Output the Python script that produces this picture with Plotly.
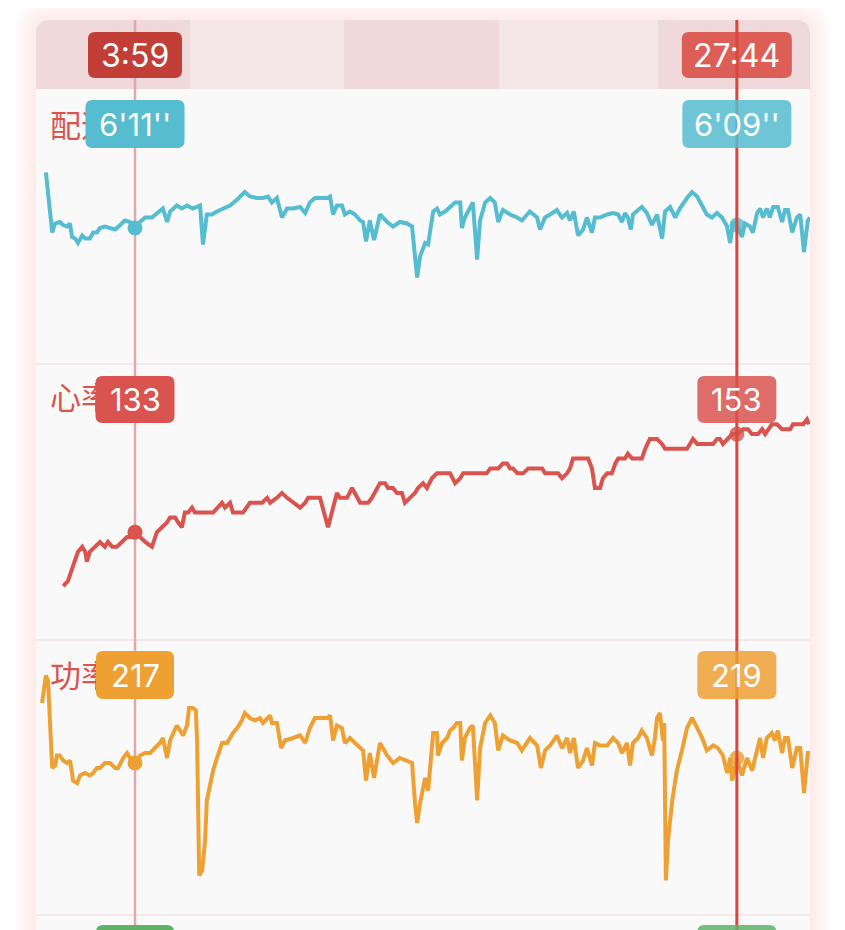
import plotly.graph_objects as go

# ---------------- data ----------------
cursor_times = [239, 1664]            # elapsed seconds of the two cursors
split_times = [369, 734, 1101, 1477]  # km split times (s) for the band shading

pace_t = [28, 43, 50, 61, 69, 78, 85, 90, 97, 104,
          114, 121, 132, 140, 149, 156, 168, 180, 192, 204,
          215, 227, 239, 251, 263, 279, 291, 305, 315, 322,
          338, 350, 362, 376, 393, 400, 409, 421, 433, 447,
          464, 481, 499, 511, 528, 542, 554, 563, 575, 587,
          599, 613, 630, 642, 653, 665, 677, 694, 701, 708,
          717, 729, 736, 748, 760, 772, 779, 786, 795, 805,
          819, 836, 850, 866, 883, 895, 902, 907, 914, 926,
          933, 945, 954, 961, 973, 985, 997, 1009, 1013, 1020,
          1032, 1039, 1049, 1056, 1068, 1080, 1091, 1099, 1110, 1127,
          1144, 1155, 1174, 1191, 1198, 1210, 1222, 1238, 1250, 1262,
          1269, 1278, 1288, 1300, 1309, 1321, 1328, 1340, 1357, 1371,
          1383, 1392, 1399, 1406, 1413, 1418, 1430, 1439, 1451, 1463,
          1475, 1487, 1494, 1506, 1518, 1529, 1546, 1558, 1570, 1582,
          1593, 1605, 1617, 1629, 1641, 1648, 1655, 1664, 1676, 1683,
          1695, 1702, 1712, 1719, 1726, 1735, 1742, 1750, 1761, 1771,
          1778, 1785, 1795, 1806, 1814, 1823, 1832, 1837]
pace_s = [334, 374, 368, 367, 369, 370, 368, 377, 378, 381,
          376, 378, 378, 374, 374, 371, 370, 371, 372, 369,
          366, 367, 371, 367, 364, 364, 361, 358, 367, 360,
          356, 358, 356, 358, 356, 382, 362, 362, 360, 358,
          356, 352, 347, 350, 351, 351, 350, 354, 351, 364,
          358, 358, 357, 361, 354, 351, 351, 351, 350, 362,
          356, 356, 362, 360, 362, 366, 367, 380, 366, 379,
          362, 367, 370, 367, 368, 370, 390, 404, 390, 381,
          382, 360, 358, 362, 360, 357, 354, 354, 371, 364,
          357, 354, 392, 366, 354, 351, 354, 367, 359, 362,
          364, 366, 360, 364, 372, 364, 362, 359, 364, 361,
          366, 360, 376, 372, 364, 374, 364, 364, 362, 361,
          362, 367, 361, 364, 372, 362, 359, 357, 361, 369,
          362, 378, 360, 357, 364, 358, 351, 347, 350, 356,
          362, 364, 361, 364, 370, 381, 367, 369, 377, 368,
          370, 374, 361, 358, 364, 358, 364, 357, 357, 367,
          359, 359, 374, 364, 362, 387, 366, 364]

hr_t = [69, 80, 92, 104, 114, 121, 125, 132, 144, 156,
        168, 175, 185, 196, 208, 220, 232, 239, 251, 263,
        279, 291, 303, 315, 322, 334, 341, 350, 357, 365,
        374, 381, 424, 436, 445, 452, 464, 471, 495, 511,
        540, 552, 559, 575, 587, 599, 613, 630, 642, 649,
        677, 684, 696, 705, 717, 724, 741, 753, 760, 772,
        784, 791, 800, 807, 819, 831, 838, 850, 859, 871,
        878, 890, 902, 909, 921, 930, 942, 954, 985, 997,
        1009, 1016, 1072, 1080, 1099, 1110, 1120, 1127, 1134, 1144,
        1158, 1170, 1203, 1210, 1241, 1250, 1262, 1269, 1276, 1312,
        1321, 1328, 1340, 1347, 1357, 1368, 1376, 1383, 1399, 1406,
        1416, 1428, 1439, 1447, 1458, 1475, 1487, 1494, 1546, 1553,
        1560, 1570, 1608, 1617, 1624, 1631, 1641, 1653, 1664, 1679,
        1690, 1700, 1714, 1724, 1731, 1738, 1747, 1759, 1771, 1778,
        1790, 1797, 1821, 1830, 1835]
hr_bpm = [122, 123, 126, 129, 130, 129, 127, 129, 130, 131,
          130, 131, 130, 130, 131, 132, 132, 133, 132, 131,
          130, 133, 134, 135, 136, 136, 135, 134, 137, 137,
          138, 137, 137, 138, 139, 138, 139, 137, 137, 139,
          139, 140, 139, 140, 141, 140, 139, 138, 139, 140,
          140, 138, 134, 137, 141, 140, 140, 142, 141, 139,
          139, 139, 140, 141, 143, 143, 142, 142, 141, 141,
          139, 140, 141, 142, 143, 142, 144, 145, 145, 143,
          144, 145, 145, 146, 146, 147, 147, 146, 146, 145,
          145, 146, 146, 145, 145, 144, 145, 146, 148, 148,
          146, 142, 142, 144, 145, 145, 147, 148, 148, 149,
          148, 148, 148, 150, 152, 152, 151, 150, 150, 151,
          152, 151, 151, 152, 152, 151, 152, 153, 153, 154,
          154, 153, 153, 154, 153, 154, 155, 155, 154, 154,
          154, 155, 155, 156, 155]

power_t = [19, 24, 28, 33, 38, 43, 50, 54, 61, 69,
           78, 85, 90, 92, 102, 109, 121, 132, 140, 149,
           156, 168, 180, 192, 199, 211, 220, 227, 239, 251,
           263, 275, 286, 298, 305, 315, 322, 329, 338, 346,
           353, 362, 367, 376, 383, 386, 388, 391, 398, 400,
           405, 409, 417, 424, 433, 445, 457, 464, 471, 481,
           492, 499, 511, 523, 535, 542, 559, 563, 575, 585,
           594, 613, 630, 642, 653, 665, 677, 694, 701, 708,
           717, 729, 736, 748, 760, 772, 779, 786, 795, 805,
           819, 836, 850, 866, 883, 895, 902, 907, 914, 926,
           933, 945, 954, 956, 966, 978, 985, 992, 1001, 1009,
           1013, 1020, 1032, 1039, 1049, 1056, 1068, 1080, 1091, 1099,
           1110, 1127, 1144, 1155, 1174, 1191, 1200, 1210, 1222, 1238,
           1250, 1262, 1269, 1278, 1288, 1300, 1309, 1321, 1328, 1340,
           1357, 1371, 1383, 1392, 1404, 1411, 1418, 1430, 1439, 1451,
           1463, 1470, 1475, 1482, 1489, 1492, 1496, 1501, 1511, 1522,
           1534, 1546, 1558, 1570, 1582, 1593, 1608, 1619, 1631, 1641,
           1648, 1653, 1664, 1676, 1688, 1700, 1707, 1719, 1726, 1735,
           1747, 1754, 1761, 1771, 1778, 1785, 1795, 1806, 1814, 1823,
           1832, 1837]
power_w = [241, 247, 252, 250, 233, 215, 216, 220, 220, 218,
           217, 218, 213, 210, 209, 212, 213, 212, 213, 215,
           215, 217, 217, 215, 215, 219, 221, 219, 217, 220,
           221, 221, 223, 225, 227, 219, 226, 229, 232, 230,
           228, 232, 239, 239, 238, 226, 199, 172, 174, 177,
           186, 202, 209, 214, 219, 225, 225, 227, 229, 231,
           234, 237, 235, 234, 235, 233, 236, 233, 233, 223,
           226, 227, 228, 225, 231, 235, 235, 235, 236, 226,
           232, 231, 225, 227, 225, 223, 222, 210, 221, 211,
           225, 220, 217, 219, 218, 217, 201, 193, 201, 211,
           206, 229, 229, 220, 225, 227, 230, 231, 233, 233,
           218, 227, 231, 232, 202, 223, 233, 236, 233, 222,
           228, 226, 225, 222, 227, 224, 215, 222, 224, 228,
           223, 227, 221, 227, 215, 218, 223, 216, 225, 224,
           224, 227, 225, 221, 225, 216, 225, 227, 230, 227,
           220, 227, 235, 237, 226, 233, 170, 186, 202, 214,
           222, 231, 235, 231, 227, 222, 224, 223, 220, 213,
           219, 210, 219, 212, 219, 214, 219, 227, 219, 227,
           229, 226, 230, 221, 227, 227, 215, 223, 223, 205,
           221, 221]

panel_titles = ["配速", "心率", "功率"]

# ---------------- styling ----------------
W, H = 845, 930
OFF = 8  # the page body margin shifts the figure by 8px; layout is given in page pixels
CARD_L, CARD_R, CARD_T = 36, 810, 20
BAND_B = 89
PANEL_B = [364, 640, 915]
X_RANGE = [4.6, 1837.2]
PACE_RANGE = [461.7, 278.3]
HR_RANGE = [111.0, 167.3]
POWER_RANGE = [156.2, 266.2]
SPP = (X_RANGE[1] - X_RANGE[0]) / (CARD_R - CARD_L)  # seconds per pixel

PACE_C = "#56bdd0"
HR_C = "#d9534f"
POWER_C = "#efa033"
TITLE_C = "#d9534f"
NUM_FONT = "Inter"
LINE_W = 4


def fx(x):
    return (x - OFF) / W


def fy(y):
    return 1 - (y - OFF) / H


def rounded_path(xl, xr, yt, yb, rx, ry, corners=(1, 1, 1, 1)):
    sy = 1 if yt > yb else -1
    tl, tr, br, bl = corners

    def P(x, y):
        return f"{x:.6f},{y:.6f}"
    parts = [f"M{P(xl + rx * tl, yt)}",
             f"L{P(xr - rx * tr, yt)}",
             f"Q{P(xr, yt)} {P(xr, yt - sy * ry * tr)}",
             f"L{P(xr, yb + sy * ry * br)}",
             f"Q{P(xr, yb)} {P(xr - rx * br, yb)}",
             f"L{P(xl + rx * bl, yb)}",
             f"Q{P(xl, yb)} {P(xl, yb + sy * ry * bl)}",
             f"L{P(xl, yt - sy * ry * tl)}",
             f"Q{P(xl, yt)} {P(xl + rx * tl, yt)}",
             "Z"]
    return " ".join(parts)


def axis_val(rng, top_px, bot_px, y_px):
    return rng[0] + (rng[1] - rng[0]) * (bot_px - y_px) / (bot_px - top_px)


def t_at(x_px):
    return X_RANGE[0] + (x_px - CARD_L) * SPP


fig = go.Figure()

# lines
fig.add_trace(go.Scatter(x=pace_t, y=pace_s, mode="lines", yaxis="y",
                         line=dict(color=PACE_C, width=LINE_W), hoverinfo="skip"))
fig.add_trace(go.Scatter(x=hr_t, y=hr_bpm, mode="lines", yaxis="y2",
                         line=dict(color=HR_C, width=LINE_W), hoverinfo="skip"))
fig.add_trace(go.Scatter(x=power_t, y=power_w, mode="lines", yaxis="y3",
                         line=dict(color=POWER_C, width=LINE_W), hoverinfo="skip"))

series = [(pace_t, pace_s, "y", PACE_C), (hr_t, hr_bpm, "y2", HR_C), (power_t, power_w, "y3", POWER_C)]
for ts, vs, ax, col in series:
    lookup = dict(zip(ts, vs))
    for i, ct in enumerate(cursor_times):
        fig.add_trace(go.Scatter(x=[ct], y=[lookup[ct]], mode="markers", yaxis=ax,
                                 opacity=1.0 if i == 0 else 0.8,
                                 marker=dict(size=15, color=col), hoverinfo="skip"))

# panel titles (partly hidden under the value boxes, as in the app)
title_rows = [("y", PACE_RANGE, BAND_B, PANEL_B[0], 129),
              ("y2", HR_RANGE, PANEL_B[0], PANEL_B[1], 401),
              ("y3", POWER_RANGE, PANEL_B[1], PANEL_B[2], 679)]
for txt, (ax, rng, top, bot, cy) in zip(panel_titles, title_rows):
    fig.add_trace(go.Scatter(x=[t_at(50)], y=[axis_val(rng, top, bot, cy)], mode="text",
                             yaxis=ax, text=[txt], textposition="middle right",
                             textfont=dict(family="Noto Sans CJK SC", size=31, color=TITLE_C),
                             hoverinfo="skip", cliponaxis=False))

shapes = []
# glow
for i in range(10, 0, -1):
    e = i * 2.2
    shapes.append(dict(type="path", xref="paper", yref="paper", layer="below",
                       line=dict(width=0), fillcolor="rgba(246,160,178,0.025)",
                       path=rounded_path(fx(CARD_L - e), fx(CARD_R + e), fy(CARD_T - e), fy(H + 60),
                                         (14 + e) / W, (14 + e) / H)))
# card body
shapes.append(dict(type="path", xref="paper", yref="paper", layer="below",
                   line=dict(width=0), fillcolor="#f9f9fa",
                   path=rounded_path(fx(CARD_L), fx(CARD_R), fy(CARD_T), fy(H + 60), 14 / W, 14 / H)))
# top band
shapes.append(dict(type="path", xref="paper", yref="paper", layer="below",
                   line=dict(width=0), fillcolor="#f5e7e8",
                   path=rounded_path(fx(CARD_L), fx(CARD_R), fy(CARD_T), fy(BAND_B), 14 / W, 14 / H,
                                     (1, 1, 0, 0))))
bounds = [X_RANGE[0]] + split_times + [X_RANGE[1]]
for k in (0, 2, 4):
    shapes.append(dict(type="path", xref="x", yref="paper", layer="below",
                       line=dict(width=0), fillcolor="#efd9db",
                       path=rounded_path(bounds[k], bounds[k + 1], fy(CARD_T), fy(BAND_B), 14 * SPP, 14 / H,
                                         (1 if k == 0 else 0, 1 if k == 4 else 0, 0, 0))))
# panel dividers
for yb in PANEL_B:
    shapes.append(dict(type="line", xref="paper", yref="paper", layer="below",
                       x0=fx(CARD_L), x1=fx(CARD_R), y0=fy(yb), y1=fy(yb),
                       line=dict(color="#f1e2e5", width=1.5)))
# cursor lines
shapes.append(dict(type="line", xref="x", yref="paper", layer="below",
                   x0=cursor_times[0], x1=cursor_times[0], y0=fy(CARD_T), y1=fy(H + 20),
                   line=dict(color="#dfa9ae", width=2.5)))
shapes.append(dict(type="line", xref="x", yref="paper", layer="above",
                   x0=cursor_times[1], x1=cursor_times[1], y0=fy(CARD_T), y1=fy(H + 20),
                   line=dict(color="#d9473d", width=3)))

# value boxes
pace_lookup = dict(zip(pace_t, pace_s))
hr_lookup = dict(zip(hr_t, hr_bpm))
pw_lookup = dict(zip(power_t, power_w))


def fmt_time(t):
    return f"{t // 60}:{t % 60:02d}"


def fmt_pace(s):
    return f"{s // 60}'{s % 60:02d}''"


box_rows = [
    (55, 46, (94, 110), ("#c23f38", "#d9483e"), [fmt_time(t) for t in cursor_times], 32),
    (124, 48, (99, 109), ("#56bccf", "#56bccf"), [fmt_pace(pace_lookup[t]) for t in cursor_times], 31),
    (399.5, 47, (79, 79), ("#d9534f", "#d9534f"), [str(hr_lookup[t]) for t in cursor_times], 31),
    (675, 48, (78, 79), ("#efa032", "#efa032"), [str(pw_lookup[t]) for t in cursor_times], 31),
    (949, 48, (78, 79), ("#5fb266", "#5fb266"), ["", ""], 31),
]
annotations = []
for cy, h, widths, cols, texts, fs in box_rows:
    for i, ct in enumerate(cursor_times):
        w = widths[i]
        shapes.append(dict(type="path", layer="above", xref="x", yref="paper",
                           xsizemode="pixel", ysizemode="pixel", xanchor=ct, yanchor=fy(cy),
                           path=rounded_path(-w / 2, w / 2, h / 2, -h / 2, 7, 7),
                           fillcolor=cols[i], line=dict(width=0),
                           opacity=1.0 if i == 0 else 0.85))
        if texts[i]:
            annotations.append(dict(x=ct, xref="x", y=fy(cy), yref="paper", text=texts[i],
                                    showarrow=False, xanchor="center", yanchor="middle",
                                    font=dict(family=NUM_FONT, size=fs, color="white")))

axis_common = dict(visible=False, showgrid=False, zeroline=False, fixedrange=True)
fig.update_layout(
    width=W, height=H, margin=dict(l=0, r=0, t=0, b=0),
    paper_bgcolor="white", plot_bgcolor="rgba(0,0,0,0)", showlegend=False,
    xaxis=dict(range=X_RANGE, domain=[fx(CARD_L), fx(CARD_R)], anchor="y", **axis_common),
    yaxis=dict(range=PACE_RANGE, domain=[fy(PANEL_B[0]), fy(BAND_B)], anchor="x", **axis_common),
    yaxis2=dict(range=HR_RANGE, domain=[fy(PANEL_B[1]), fy(PANEL_B[0])], anchor="x", **axis_common),
    yaxis3=dict(range=POWER_RANGE, domain=[fy(PANEL_B[2]), fy(PANEL_B[1])], anchor="x", **axis_common),
    shapes=shapes, annotations=annotations,
)

fig.write_html("out.html", config={"displayModeBar": False})
